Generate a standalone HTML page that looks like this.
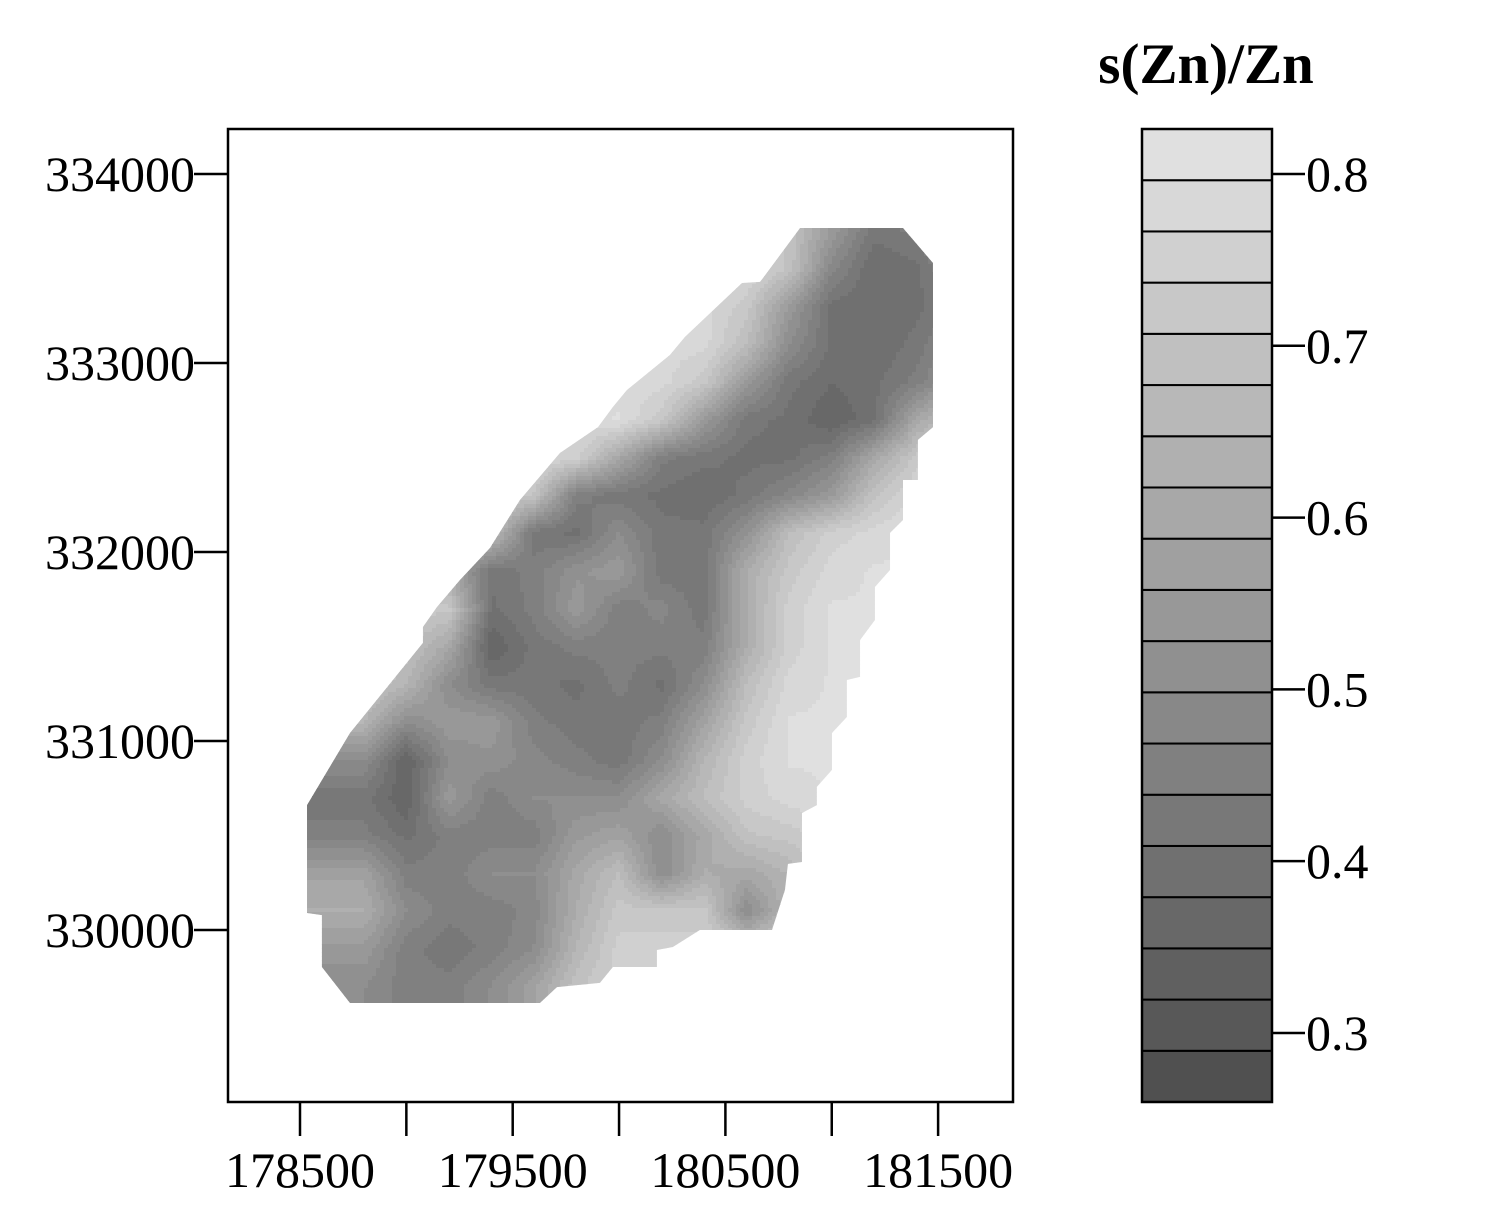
<!DOCTYPE html>
<html><head><meta charset="utf-8"><style>
html,body{margin:0;padding:0;background:#fff;}
svg text{font-family:"Liberation Serif",serif;fill:#000;}
</style></head><body>
<svg id="chart" width="1500" height="1200" viewBox="0 0 1500 1200" xmlns="http://www.w3.org/2000/svg">
<defs><clipPath id="hull"><polygon id="hullpoly"/></clipPath></defs>
<rect width="1500" height="1200" fill="#fff"/>
<g id="field" clip-path="url(#hull)"></g>
<rect x="228" y="129" width="785" height="973" fill="none" stroke="#000" stroke-width="2.5"/>
<g id="axes"></g>
<g id="legend"></g>
<text x="1206" y="83" font-size="57" font-weight="bold" text-anchor="middle">s(Zn)/Zn</text>
</svg>
<script>
const xTicks=[178500,179000,179500,180000,180500,181000,181500];
const xTickLabels=["178500","","179500","","180500","","181500"];
const yTicks=[330000,331000,332000,333000,334000];
const yTickLabels=["330000","331000","332000","333000","334000"];
const legendTicks=[0.3,0.4,0.5,0.6,0.7,0.8];
const legendMin=0.2598, legendMax=0.8262, legendBins=19;
const gridX0=178800, gridY0=333700, gridStep=200;
const hullX=[180851,181335,181476,181476,181405,181405,181335,181335,181274,181274,181203,181203,181133,181133,181071,181071,181001,181001,180930,180930,180860,180860,180794,180780,180719,180380,180253,180178,180178,179971,179910,179708,179628,178735,178603,178603,178533,178533,178735,179078,179078,179144,179252,179393,179534,179722,179901,179971,180037,180239,180310,180578,180663];
const hullY=[333714,333714,333529,332661,332593,332381,332381,332169,332101,331905,331815,331640,331534,331339,331323,331127,331042,330847,330757,330661,330619,330360,330350,330212,330000,330000,329910,329894,329804,329804,329720,329698,329614,329614,329804,330079,330090,330661,331042,331519,331603,331709,331852,332021,332275,332524,332661,332767,332857,333042,333138,333423,333429];
const grid=[
[.75,.75,.75,.75,.75,.75,.75,.75,.75,.75,.7,.55,.42,.45,.55],
[.75,.75,.75,.75,.75,.75,.75,.75,.75,.78,.7,.48,.38,.4,.5],
[.78,.78,.78,.78,.78,.78,.78,.78,.78,.72,.55,.4,.38,.4,.45],
[.78,.78,.78,.78,.78,.78,.78,.78,.78,.68,.5,.4,.38,.42,.5],
[.78,.78,.78,.78,.78,.78,.78,.78,.72,.55,.42,.38,.4,.45,.55],
[.78,.78,.78,.78,.78,.78,.8,.72,.55,.42,.4,.35,.4,.6,.7],
[.78,.78,.78,.78,.78,.75,.6,.45,.42,.4,.4,.45,.6,.72,.78],
[.78,.78,.78,.75,.7,.45,.42,.4,.38,.42,.48,.55,.7,.78,.8],
[.78,.78,.72,.68,.42,.4,.5,.42,.42,.52,.68,.75,.78,.8,.8],
[.78,.75,.6,.42,.45,.52,.55,.42,.42,.62,.72,.78,.8,.8,.8],
[.78,.72,.72,.4,.45,.55,.45,.48,.42,.62,.75,.8,.8,.8,.8],
[.75,.7,.6,.35,.42,.45,.45,.45,.45,.62,.75,.8,.8,.8,.8],
[.72,.65,.5,.42,.42,.4,.45,.4,.5,.68,.78,.8,.8,.8,.8],
[.65,.5,.55,.55,.45,.42,.42,.45,.58,.72,.8,.8,.8,.8,.8],
[.5,.35,.5,.52,.48,.45,.42,.5,.65,.75,.8,.8,.8,.8,.8],
[.42,.35,.55,.45,.5,.5,.5,.6,.68,.75,.78,.8,.8,.8,.8],
[.45,.4,.45,.45,.45,.55,.58,.5,.6,.7,.72,.75,.8,.8,.8],
[.58,.45,.45,.5,.5,.6,.68,.5,.62,.6,.65,.75,.8,.8,.8],
[.62,.5,.45,.45,.48,.62,.72,.72,.72,.5,.65,.75,.8,.8,.8],
[.55,.45,.42,.45,.5,.65,.75,.75,.75,.7,.75,.8,.8,.8,.8],
[.5,.45,.45,.5,.58,.7,.75,.78,.78,.78,.78,.8,.8,.8,.8]];

const NS="http://www.w3.org/2000/svg";
const sx=v=>300+(v-178500)*0.2127;
const sy=v=>174+(334000-v)*0.189;
const ly=v=>1102-(v-legendMin)/(legendMax-legendMin)*973;
const legendStep=(legendMax-legendMin)/legendBins;
function mk(tag,attrs,parent){const e=document.createElementNS(NS,tag);for(const k in attrs)e.setAttribute(k,attrs[k]);parent.appendChild(e);return e;}
function binIndex(v){let i=Math.floor((v-legendMin)/legendStep);return Math.max(0,Math.min(legendBins-1,i));}
function binColorI(i){const g=Math.round(80+(224-80)*i/(legendBins-1));return `rgb(${g},${g},${g})`;}

document.getElementById('hullpoly').setAttribute('points',hullX.map((x,i)=>sx(x)+','+sy(hullY[i])).join(' '));

const field=document.getElementById('field');
const nR=grid.length,nC=grid[0].length;
function val(x,y){let fc=(x-gridX0)/gridStep,fr=(gridY0-y)/gridStep;fc=Math.max(0,Math.min(nC-1.0001,fc));fr=Math.max(0,Math.min(nR-1.0001,fr));const c=Math.floor(fc),r=Math.floor(fr),tx=fc-c,ty=fr-r;
return grid[r][c]*(1-tx)*(1-ty)+grid[r][c+1]*tx*(1-ty)+grid[r+1][c]*(1-tx)*ty+grid[r+1][c+1]*tx*ty;}
const step=4;
for(let py=224;py<1008;py+=step){for(let px=304;px<936;px+=step){
 const x=178500+(px+step/2-300)/0.2127, y=334000-(py+step/2-174)/0.189;
 const r=mk('rect',{x:px,y:py,width:step+0.4,height:step+0.4,fill:binColorI(binIndex(val(x,y)))},field);
 
 
}}

const axes=document.getElementById('axes');
xTicks.forEach((t,i)=>{const x=sx(t);
 const l=mk('line',{x1:x,y1:1102,x2:x,y2:1136,stroke:'#000','stroke-width':2.5},axes);
 
 
 if(xTickLabels[i]){const tx=mk('text',{x:x,y:1187,'font-size':50,'text-anchor':'middle'},axes);tx.textContent=xTickLabels[i];
 
 }
});
yTicks.forEach((t,i)=>{const y=sy(t);
 const l=mk('line',{x1:194,y1:y,x2:228,y2:y,stroke:'#000','stroke-width':2.5},axes);
 
 
 const tx=mk('text',{x:195,y:y+17,'font-size':50,'text-anchor':'end'},axes);tx.textContent=yTickLabels[i];
 
 
});

const lg=document.getElementById('legend');
for(let i=0;i<legendBins;i++){const v0=legendMin+i*legendStep;const y0=ly(v0),y1=ly(v0+legendStep);
 const r=mk('rect',{x:1142,y:y1,width:130,height:y0-y1,fill:binColorI(i),stroke:'#000','stroke-width':2},lg);
 
 
}
mk('rect',{x:1142,y:129,width:130,height:973,fill:'none',stroke:'#000','stroke-width':2.5},lg);
legendTicks.forEach(t=>{const y=ly(t);
 const l=mk('line',{x1:1272,y1:y,x2:1305,y2:y,stroke:'#000','stroke-width':2.5},lg);
 
 
 const tx=mk('text',{x:1306,y:y+17,'font-size':50},lg);tx.textContent=t.toFixed(1);
 
 
});
</script>
</body></html>
